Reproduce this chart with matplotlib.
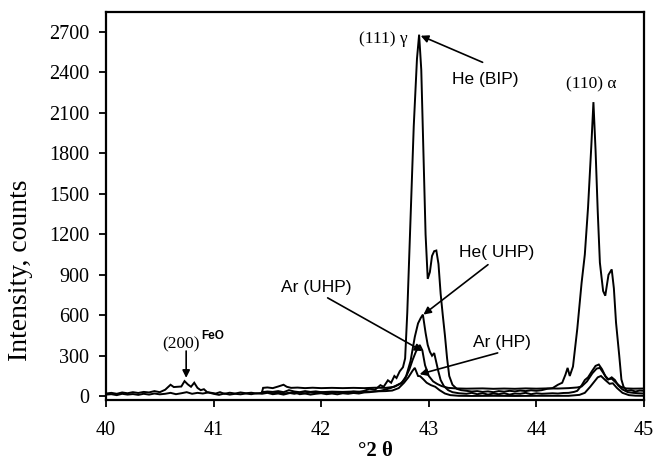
import matplotlib
matplotlib.use('Agg')
import matplotlib.pyplot as plt

# ---------------- data ----------------
he_bip_x = [40.00, 40.05, 40.10, 40.15, 40.20, 40.25, 40.30, 40.35, 40.40, 40.45, 40.50, 40.55,
            40.60, 40.63, 40.67, 40.70, 40.73, 40.76, 40.79, 40.82, 40.85, 40.88, 40.91, 40.94,
            40.98, 41.02, 41.06, 41.10, 41.15, 41.20, 41.25, 41.30, 41.35, 41.40, 41.45, 41.50,
            41.55, 41.60, 41.65, 41.70, 41.75, 41.80, 41.85, 41.90, 41.95, 42.00, 42.05, 42.10,
            42.15, 42.20, 42.25, 42.30, 42.35, 42.40, 42.45, 42.50, 42.55, 42.58, 42.62, 42.65,
            42.68, 42.70, 42.73, 42.76, 42.78, 42.80, 42.83, 42.86, 42.89, 42.91, 42.93, 42.95,
            42.97, 42.99, 43.01, 43.03, 43.05, 43.07, 43.09, 43.11, 43.13, 43.15, 43.17, 43.19,
            43.22, 43.26, 43.30, 43.35, 43.40, 43.45, 43.50, 43.55, 43.60, 43.65, 43.70, 43.75,
            43.80, 43.85, 43.90, 43.95, 44.00, 44.05, 44.10, 44.15, 44.20, 44.24, 44.27, 44.29,
            44.31, 44.34, 44.38, 44.42, 44.45, 44.48, 44.51, 44.53, 44.55, 44.57, 44.59, 44.62,
            44.64, 44.67, 44.70, 44.72, 44.74, 44.77, 44.79, 44.81, 44.84, 44.88, 44.92, 44.96,
            45.00]
he_bip_y = [20, 25, 18, 28, 22, 30, 24, 32, 28, 38, 30, 48,
            85, 68, 70, 72, 112, 88, 70, 100, 62, 45, 52, 30,
            25, 20, 30, 18, 26, 20, 28, 22, 26, 20, 25, 30,
            22, 28, 20, 25, 18, 26, 22, 28, 24, 30, 24, 28,
            26, 30, 28, 34, 30, 40, 55, 48, 82, 70, 118, 100,
            150, 135, 185, 215, 280, 620, 1300, 2000, 2500, 2680, 2420, 1800,
            1200, 870, 920, 1040, 1075, 1080, 980, 760, 600, 450, 280, 150,
            85, 55, 45, 40, 35, 38, 32, 36, 30, 38, 34, 40,
            36, 42, 38, 44, 40, 45, 55, 60, 85, 100, 160, 210,
            150, 220, 500, 840, 1050, 1400, 1850, 2180, 1820, 1370, 990, 780,
            745, 900, 940, 800, 546, 300, 124, 70, 40, 45, 35, 42,
            40]

he_uhp_x = [40.00, 40.05, 40.10, 40.15, 40.20, 40.25, 40.30, 40.35, 40.40, 40.45, 40.50, 40.55,
            40.60, 40.65, 40.70, 40.75, 40.80, 40.85, 40.90, 40.95, 41.00, 41.05, 41.10, 41.15,
            41.20, 41.25, 41.30, 41.35, 41.40, 41.45, 41.50, 41.55, 41.60, 41.65, 41.70, 41.75,
            41.80, 41.85, 41.90, 41.95, 42.00, 42.05, 42.10, 42.15, 42.20, 42.25, 42.30, 42.35,
            42.40, 42.45, 42.50, 42.55, 42.60, 42.65, 42.70, 42.75, 42.79, 42.83, 42.87, 42.90,
            42.925, 42.945, 42.97, 42.99, 43.01, 43.03, 43.05, 43.07, 43.09, 43.11, 43.14, 43.18,
            43.22, 43.28, 43.35, 43.40, 43.45, 43.50, 43.55, 43.60, 43.65, 43.70, 43.75, 43.80,
            43.85, 43.90, 43.95, 44.00, 44.05, 44.10, 44.15, 44.20, 44.25, 44.30, 44.35, 44.38,
            44.42, 44.45, 44.48, 44.52, 44.55, 44.58, 44.61, 44.64, 44.67, 44.70, 44.73, 44.76,
            44.80, 44.85, 44.90, 44.95, 45.00]
he_uhp_y = [12, 15, 8, 18, 12, 16, 10, 18, 12, 20, 14, 18,
            25, 15, 22, 30, 18, 25, 20, 28, 18, 10, 20, 12,
            18, 14, 20, 15, 22, 18, 25, 15, 20, 12, 22, 30,
            15, 20, 12, 18, 22, 15, 20, 14, 22, 18, 24, 20,
            28, 30, 35, 40, 50, 62, 80, 100, 150, 260, 440, 540,
            580, 605, 470, 380, 330, 300, 320, 250, 180, 120, 75, 45,
            30, 22, 18, 25, 15, 22, 12, 20, 15, 22, 12, 20,
            18, 25, 15, 22, 18, 20, 22, 20, 24, 25, 32, 40,
            80, 120, 140, 190, 225, 235, 200, 150, 125, 140, 120, 80,
            50, 30, 25, 22, 20]

ar_uhp_x = [41.45, 41.46, 41.50, 41.55, 41.60, 41.65, 41.68, 41.72, 41.78, 41.85, 41.92, 42.00,
            42.10, 42.20, 42.30, 42.40, 42.50, 42.60, 42.68, 42.74, 42.78, 42.82, 42.85, 42.88,
            42.915, 42.94, 42.965, 43.00, 43.04, 43.08, 43.12, 43.18, 43.25, 43.35, 43.50, 43.60,
            43.70, 43.80, 43.90, 44.00, 44.10, 44.20, 44.30, 44.38, 44.42, 44.47, 44.52, 44.56,
            44.59, 44.62, 44.66, 44.70, 44.74, 44.78, 44.83, 44.90, 45.00]
ar_uhp_y = [30, 62, 65, 60, 72, 85, 70, 62, 64, 60, 63, 60,
            62, 60, 62, 60, 63, 62, 70, 95, 130, 200, 270, 330,
            380, 340, 230, 150, 110, 90, 75, 62, 58, 56, 58, 55,
            57, 55, 58, 56, 58, 57, 60, 65, 72, 110, 170, 205,
            210, 175, 125, 130, 100, 72, 58, 56, 57]

ar_hp_x = [41.45, 41.50, 41.55, 41.60, 41.65, 41.70, 41.75, 41.80, 41.85, 41.90, 41.95, 42.00,
           42.10, 42.20, 42.30, 42.40, 42.50, 42.60, 42.66, 42.72, 42.77, 42.81, 42.85, 42.87,
           42.885, 42.90, 42.92, 42.95, 42.98, 43.02, 43.06, 43.10, 43.15, 43.20, 43.28, 43.40,
           43.60, 43.80, 44.00, 44.20, 44.30, 44.40, 44.45, 44.50, 44.54, 44.57, 44.60, 44.64,
           44.68, 44.71, 44.75, 44.80, 44.86, 44.92, 45.00]
ar_hp_y = [30, 35, 32, 38, 30, 45, 35, 30, 38, 32, 36, 30,
           34, 32, 35, 33, 36, 38, 42, 60, 100, 140, 190, 210,
           180, 150, 148, 125, 100, 82, 70, 45, 20, 8, 3, 2,
           3, 2, 3, 3, 3, 10, 25, 70, 110, 140, 150, 120,
           92, 96, 60, 25, 8, 4, 3]

x_ticks = [40, 41, 42, 43, 44, 45]
y_ticks = [0, 300, 600, 900, 1200, 1500, 1800, 2100, 2400, 2700]

# ---------------- figure ----------------
SERIF = ['Liberation Serif', 'DejaVu Serif']
SANS = ['Liberation Sans', 'DejaVu Sans']
plt.rcParams['font.family'] = SERIF

fig = plt.figure(figsize=(6.54, 4.68), dpi=100)
ax = fig.add_axes([106 / 654, 1 - 400 / 468, 538 / 654, 388 / 468])

for xs, ys in [(he_uhp_x, he_uhp_y), (ar_hp_x, ar_hp_y), (ar_uhp_x, ar_uhp_y), (he_bip_x, he_bip_y)]:
    ax.plot(xs, ys, color='black', lw=1.4, solid_joinstyle='miter')

ax.set_xlim(40, 45)
ax.set_ylim(-28, 2848)
ax.set_xticks(x_ticks)
ax.set_yticks(y_ticks)
ax.tick_params(axis='both', direction='out', length=5, width=1.3, labelsize=14.5,
               top=False, right=False)
ax.tick_params(axis='x', pad=10)
ax.tick_params(axis='y', pad=7)
for sp in ax.spines.values():
    sp.set_linewidth(1.6)

ax.set_ylabel('Intensity, counts', fontsize=20)
ax.yaxis.set_label_coords(-0.135, 0.335)
ax.set_xlabel('\u00b02 \u03b8', fontsize=15, fontweight='bold')
ax.xaxis.set_label_coords(0.5, -0.105)

arrow = dict(arrowstyle='-|>', color='black', lw=1.2, mutation_scale=11, shrinkA=0, shrinkB=0)

# peak labels
ax.text(42.80, 2645, '(111) \u03b3', fontsize=12.5, ha='right', va='center', family=SERIF)
ax.text(44.51, 2309, '(110) \u03b1', fontsize=12.5, ha='center', va='center', family=SERIF)
ax.text(40.875, 383, '(200)', fontsize=12.5, ha='right', va='center', family=SERIF)
ax.text(40.885, 450, 'FeO', fontsize=8.5, ha='left', va='center', family=SANS, fontweight='bold')
ax.annotate('', xy=(40.745, 136), xytext=(40.745, 335), arrowprops=arrow)

# sample labels with arrows
ax.text(43.52, 2346, 'He (BIP)', fontsize=12.5, ha='center', va='center', family=SANS)
ax.annotate('', xy=(42.925, 2672), xytext=(43.50, 2475), arrowprops=arrow)

ax.text(43.63, 1064, 'He( UHP)', fontsize=12.5, ha='center', va='center', family=SANS)
ax.annotate('', xy=(42.95, 605), xytext=(43.55, 975), arrowprops=arrow)

ax.text(41.95, 805, 'Ar (UHP)', fontsize=12.5, ha='center', va='center', family=SANS)
ax.annotate('', xy=(42.94, 335), xytext=(42.06, 729), arrowprops=arrow)

ax.text(43.68, 395, 'Ar (HP)', fontsize=12.5, ha='center', va='center', family=SANS)
ax.annotate('', xy=(42.915, 163), xytext=(43.64, 321), arrowprops=arrow)

fig.savefig('out.png', dpi=100)
